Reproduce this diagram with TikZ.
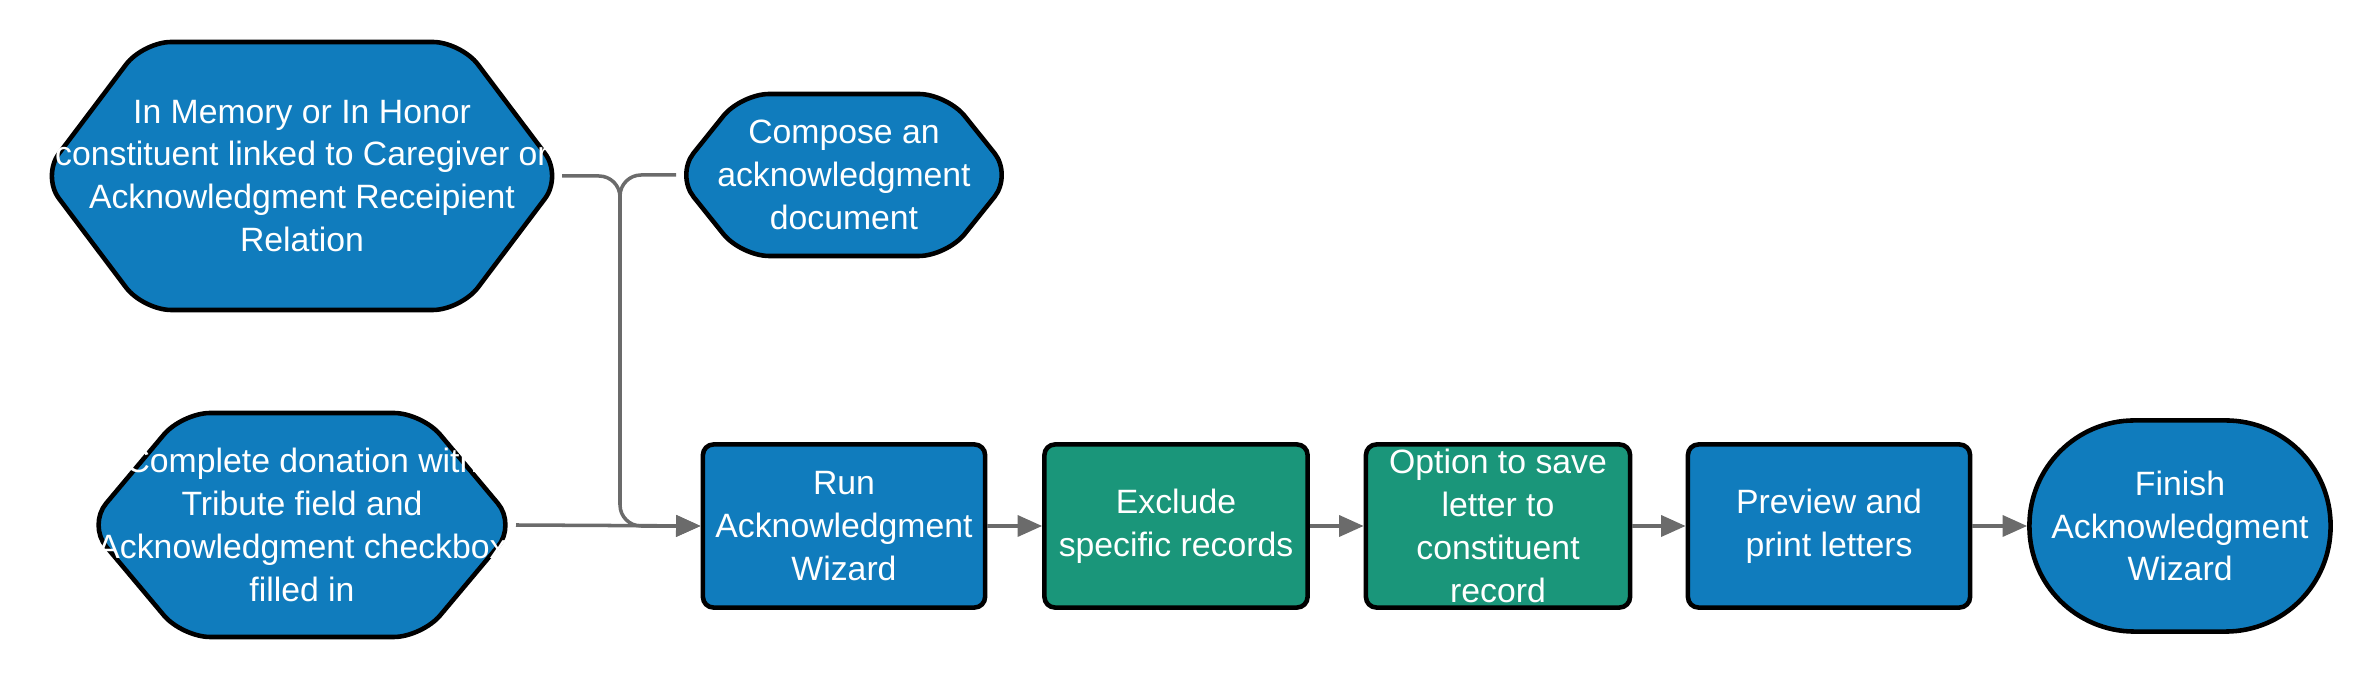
\documentclass[tikz,border=0pt]{standalone}
\usepackage{fontspec}
\setmainfont{Liberation Sans}
\usetikzlibrary{positioning,arrows.meta,calc}
\definecolor{stepblue}{RGB}{16,124,189}
\definecolor{stepgreen}{RGB}{26,150,122}
\tikzset{
  txt/.style = {text=white, align=center, font=\fontsize{9.6}{12.2}\selectfont, inner sep=0pt},
  boxb/.style = {draw, line width=1.3pt, rounded corners=3pt, fill=stepblue, txt, minimum height=1.63cm},
  boxg/.style = {boxb, fill=stepgreen},
  hex/.style = {draw, line width=1.3pt, rounded corners=8pt, fill=stepblue},
  link/.style = {draw=black!58, line width=1pt, rounded corners=6pt, -{Triangle[length=7pt,width=6pt]}},
  plain/.style = {draw=black!58, line width=1pt, rounded corners=6pt},
}
% hexagon: centre, half width, half height, inset of the side points
\newcommand\hexat[4]{%
  \path[hex] ($(#1)+(-#2,0)$) -- ($(#1)+(-#2+#4,#3)$) -- ($(#1)+(#2-#4,#3)$)
    -- ($(#1)+(#2,0)$) -- ($(#1)+(#2-#4,-#3)$) -- ($(#1)+(-#2+#4,-#3)$) -- cycle;
  \coordinate (#1-w) at ($(#1)+(-#2,0)$);
  \coordinate (#1-e) at ($(#1)+(#2,0)$);}
\begin{document}
\begin{tikzpicture}[x=0.01cm, y=0.01cm]
  \useasboundingbox (0,0) rectangle (2360,676);
  % hexagons
  \coordinate (cmem) at (302,500);
  \coordinate (ccomp) at (844,501);
  \coordinate (cdon) at (302,151);
  \hexat{cmem}{260}{134}{101}
  \hexat{ccomp}{168}{81}{65}
  \hexat{cdon}{214}{112}{94}
  \node[txt] (mem) at (cmem) {In Memory or In Honor\\constituent linked to Caregiver or\\Acknowledgment Receipient\\Relation};
  \node[txt] (comp) at (ccomp) {Compose an\\acknowledgment\\document};
  \node[txt] (don) at (cdon) {Complete donation with\\Tribute field and\\Acknowledgment checkbox\\filled in};
  % process steps
  \node[boxb, minimum width=2.82cm] (run) at (844,150) {Run\\Acknowledgment\\Wizard};
  \node[boxg, minimum width=2.63cm] (excl) at (1176,150) {Exclude\\specific records};
  \node[boxg, minimum width=2.64cm] (save) at (1498,150) {Option to save\\letter to\\constituent\\record};
  \node[boxb, minimum width=2.82cm] (prev) at (1829,150) {Preview and\\print letters};
  \node[boxb, rounded corners=1.05cm, minimum width=3.01cm, minimum height=2.11cm] (fin) at (2180,150) {Finish\\Acknowledgment\\Wizard};
  % connectors
  \coordinate (jn) at (620,150);
  \coordinate (jtop) at (620,400);
  \draw[plain] (ccomp-w) -| (jtop);
  \draw[link] (cmem-e) -| (jn) -- (run.west);
  \draw[link] (cdon-e) -- (run.west);
  \draw[link] (run) -- (excl);
  \draw[link] (excl) -- (save);
  \draw[link] (save) -- (prev);
  \draw[link] (prev) -- (fin);
\end{tikzpicture}
\end{document}
